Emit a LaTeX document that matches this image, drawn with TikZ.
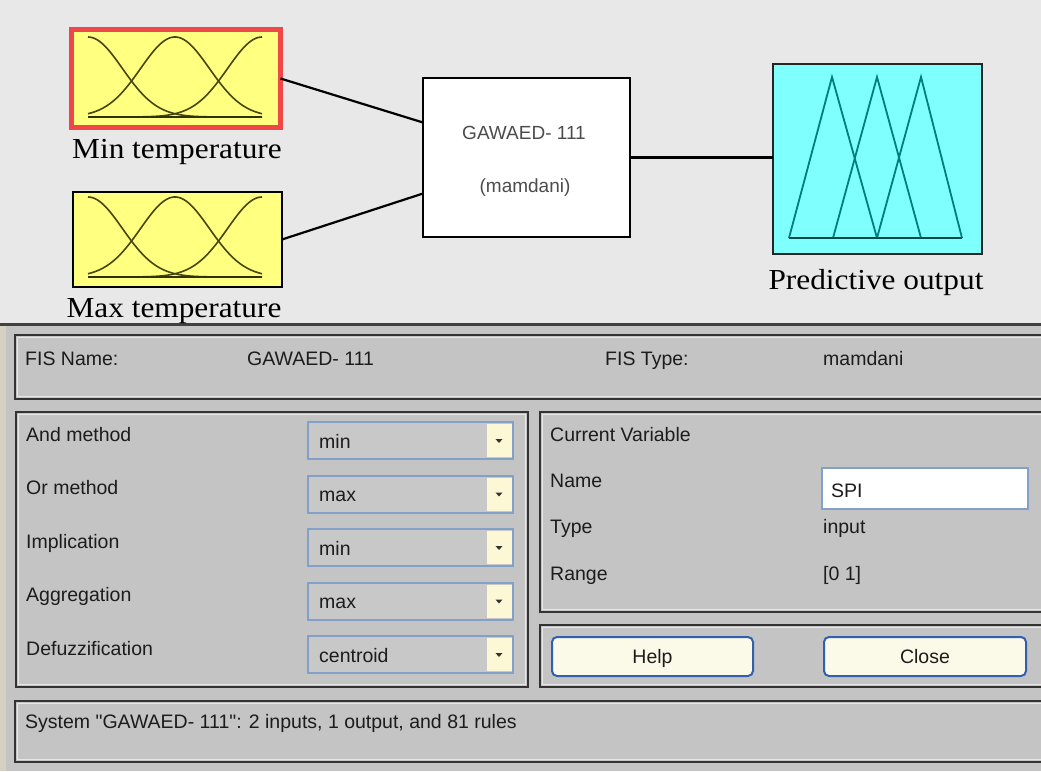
\documentclass[tikz,border=0pt]{standalone}
\usepackage{graphicx}
\usepackage{fontspec}
\setmainfont{Liberation Serif}
\newfontfamily\uifont{Liberation Sans}
\definecolor{topbg}{RGB}{232,232,232}
\definecolor{panelbg}{RGB}{196,196,196}
\definecolor{ddbg}{RGB}{200,200,200}
\definecolor{beigestrip}{RGB}{214,208,194}
\definecolor{fuzzyyellow}{RGB}{255,255,128}
\definecolor{fuzzycyan}{RGB}{128,255,255}
\definecolor{curvecol}{RGB}{70,70,10}
\definecolor{tricol}{RGB}{0,125,125}
\definecolor{selred}{RGB}{240,72,72}
\definecolor{uiblue}{RGB}{130,160,200}
\definecolor{btnblue}{RGB}{50,95,175}
\definecolor{cream}{RGB}{251,249,232}
\definecolor{btnyellow}{RGB}{252,248,214}
\definecolor{uitext}{RGB}{28,28,28}
\newcommand\uipanel[4]{%
  \draw[line width=2pt, draw=black!80, fill=panelbg] (#1,#2) rectangle (#3,#4);
  \draw[line width=1pt, draw=white!60!panelbg] (#1+2.5,#2+2.5) rectangle (#3-2.5,#4-2.5);}
\tikzset{
  serifname/.style={font=\fontsize{29}{34}\selectfont, text=black, anchor=base, inner sep=0},
  uilabel/.style={font=\uifont\fontsize{19.5}{22}\selectfont, text=uitext, anchor=base west, inner sep=0},
  uicenter/.style={font=\uifont\fontsize{19.5}{22}\selectfont, text=uitext, anchor=base, inner sep=0},
  mfbox/.style={draw=black, line width=2pt, inner sep=0, outer sep=0},
  conn/.style={line width=2.2pt, draw=black},
  dropdown/.style={draw=uiblue, line width=2pt, fill=ddbg, minimum width=205pt, minimum height=37pt, inner sep=0},
  ddbutton/.style={fill=btnyellow, minimum width=25pt, minimum height=33pt, inner sep=0},
  uibutton/.style={draw=btnblue, line width=2pt, fill=cream, rounded corners=5pt, minimum height=39pt, inner sep=0},
  textfield/.style={draw=uiblue, line width=2pt, fill=white, minimum width=206pt, minimum height=41pt, inner sep=0},
  gausscurve/.style={draw=curvecol, line width=1.6pt},
  tricurve/.style={draw=tricol, line width=1.8pt}
}
\begin{document}
\begin{tikzpicture}[x=1pt,y=-1pt]
\useasboundingbox (0,0) rectangle (1041,771);
\clip (0,0) rectangle (1041,771);
% backgrounds
\fill[topbg] (0,0) rectangle (1041,323);
\fill[panelbg] (0,323) rectangle (1041,771);
\fill[beigestrip] (0,326) rectangle (6,771);
\draw[line width=2.5pt, black!75] (0,324.5) -- (1041,324.5);

% ---------- top: FIS diagram ----------
\node[mfbox, draw=selred, line width=5pt, fill=fuzzyyellow, minimum width=209pt, minimum height=98pt] (minv) at (176,78.5) {};
\node[mfbox, fill=fuzzyyellow, minimum width=209pt, minimum height=95pt] (maxv) at (177.5,239.5) {};
\foreach \c in {88,175,262} {
  \draw[gausscurve] plot[domain=88:262, samples=80] (\x, {117-80*exp(-0.5*((\x-\c)/34.4)^2)});
  \draw[gausscurve] plot[domain=88:262, samples=80] (\x, {277-80*exp(-0.5*((\x-\c)/34.4)^2)});
}
\draw[draw=curvecol!70!black, line width=2.2pt] (88,117) -- (262,117);
\draw[draw=curvecol!70!black, line width=2.2pt] (88,277) -- (262,277);
\node[serifname] (minlab) at (177,158) {\scalebox{1.08}[1]{Min temperature}};
\node[serifname] (maxlab) at (174,317) {\scalebox{1.08}[1]{Max temperature}};

\node[mfbox, fill=white, minimum width=207pt, minimum height=159pt] (gaw) at (526.5,157.5) {};
\node[uicenter, text=black!70, font=\uifont\fontsize{19}{22}\selectfont] (gawname) at (524,139) {GAWAED- 111};
\node[uicenter, text=black!70, font=\uifont\fontsize{19}{22}\selectfont] (gawtype) at (525,192) {(mamdani)};

\node[mfbox, draw=black!85, fill=fuzzycyan, minimum width=209pt, minimum height=190pt] (outv) at (877.5,159) {};
\draw[tricurve] (789,238) -- (832,77) -- (877,238);
\draw[tricurve] (833,238) -- (877,77) -- (921,238);
\draw[tricurve] (877,238) -- (921,77) -- (962,238);
\draw[draw=tricol!60!black, line width=2pt] (789,238) -- (962,238);
\node[serifname] (outlab) at (876,289) {\scalebox{1.08}[1]{Predictive output}};

\draw[conn] (minv.east) -- ([yshift=35pt]gaw.west);
\draw[conn] (maxv.east) -- ([yshift=-36pt]gaw.west);
\draw[conn] (gaw.east) -- (gaw.east -| outv.west);

% ---------- bottom: settings ----------
\uipanel{15}{335}{1050}{399}
\node[uilabel] (fisnamelab) at (25,365) {FIS Name:};
\node[uilabel] (fisname) at (247,365) {GAWAED- 111};
\node[uilabel] (fistypelab) at (605,365) {FIS Type:};
\node[uilabel] (fistype) at (823,365) {mamdani};

\uipanel{16}{412}{528}{687}
\foreach \lab/\val [count=\i] in {And method/min, Or method/max, Implication/min, Aggregation/max, Defuzzification/centroid} {
  \pgfmathsetmacro\yb{441+53.5*(\i-1)}
  \pgfmathsetmacro\yc{440.5+53.5*(\i-1)}
  \pgfmathsetmacro\yv{448+53.5*(\i-1)}
  \node[uilabel] (lab\i) at (26,\yb) {\lab};
  \node[dropdown] (dd\i) at (410.5,\yc) {};
  \node[uilabel] (val\i) at (319,\yv) {\val};
  \node[ddbutton] (ddb\i) at ([xshift=-15pt]dd\i.east) {};
  \fill[black!80] ([xshift=-3.5pt,yshift=1.5pt]ddb\i.center) -- ++(7,0) -- ++(-3.5,4) -- cycle;
}

\uipanel{540}{412}{1050}{612}
\node[uilabel] (curvar) at (550,441) {Current Variable};
\node[uilabel] (namelab) at (550,487) {Name};
\node[uilabel] (typelab) at (550,533) {Type};
\node[uilabel] (rangelab) at (550,580) {Range};
\node[textfield] (namefield) at (925,488.5) {};
\node[uilabel] (nameval) at (831,497) {SPI};
\node[uilabel] (typeval) at (823,533) {input};
\node[uilabel] (rangeval) at (823,580) {[0 1]};

\uipanel{540}{625}{1050}{687}
\node[uibutton, minimum width=201pt] (help) at (652.5,656.5) {};
\node[uicenter] (helptext) at (652.5,663) {Help};
\node[uibutton, minimum width=202pt] (close) at (925,656.5) {};
\node[uicenter] (closetext) at (925,663) {Close};

\uipanel{15}{701}{1050}{762}
\node[uilabel] (status) at (25,728) {System "GAWAED- 111": 2 inputs, 1 output, and 81 rules};
\end{tikzpicture}
\end{document}
